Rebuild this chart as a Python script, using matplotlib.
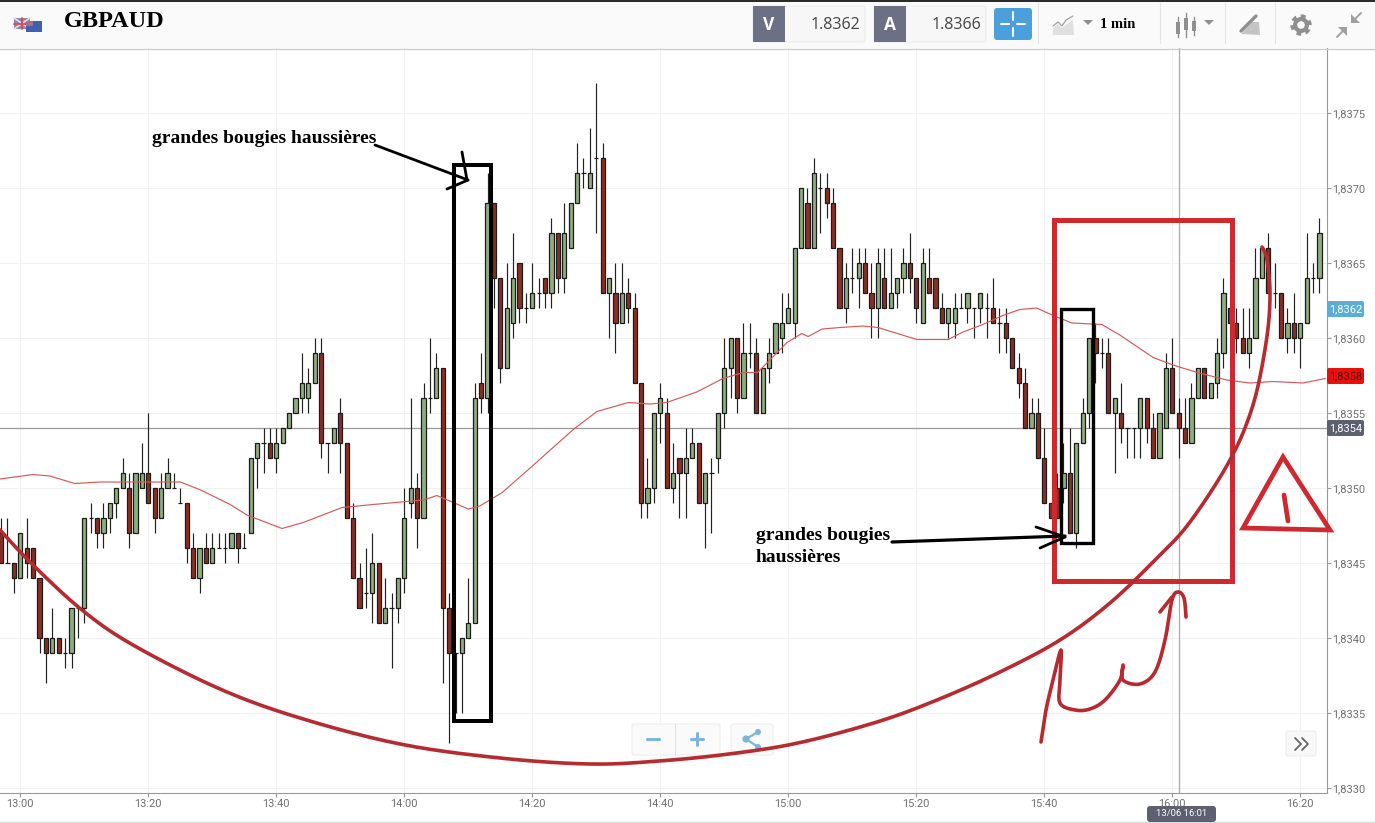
#!/usr/bin/env python3
"""
GBPAUD 1 min candlestick screenshot with hand drawn annotations.
"""

import matplotlib
matplotlib.use('Agg')
import matplotlib.pyplot as plt
from matplotlib.patches import Rectangle, FancyBboxPatch, Polygon, Circle
import numpy as np

# Candles, one per minute, first one at 12:57. Values in pips above 1.8330
first_minute = -3
opens = [17, 15, 15, 14, 16, 16, 14, 10, 9, 10,
         9, 9, 12, 12, 18, 18, 17, 18, 19, 20,
         20, 17, 20, 21, 20, 18, 20, 20, 19, 19,
         16, 14, 16, 15, 16, 16, 16, 17, 16, 17,
         22, 23, 23, 22, 23, 24, 25, 26, 26, 27,
         29, 23, 23, 25, 23, 18, 14, 13, 13, 15,
         11, 12, 12, 14, 19, 20, 18, 26, 26, 28,
         12, 9, 9, 10, 11, 27, 26, 39, 34, 28,
         31, 35, 32, 32, 33, 34, 33, 37, 34, 36,
         39, 41, 40, 42, 42, 33, 33, 31, 33, 32,
         27, 19, 20, 25, 25, 20, 22, 21, 22, 23,
         19, 21, 22, 25, 28, 30, 26, 29, 29, 25,
         28, 29, 30, 31, 31, 36, 39, 36, 40, 40,
         39, 36, 32, 34, 34, 35, 33, 32, 34, 32,
         33, 34, 35, 34, 31, 34, 34, 32, 31, 31,
         32, 32, 32, 32, 32, 32, 31, 31, 30, 28,
         27, 24, 25, 22, 19, 20, 20, 21, 17, 23,
         25, 30, 29, 29, 25, 25, 24, 24, 24, 26,
         24, 22, 24, 28, 25, 24, 23, 26, 28, 26,
         27, 29, 32, 31, 30, 29, 30, 34, 36, 33,
         33, 30, 31, 30, 31, 34, 34]
closes = [15, 15, 14, 17, 15, 14, 10, 9, 10, 9,
          9, 12, 12, 18, 18, 17, 18, 19, 20, 21,
          17, 21, 21, 19, 18, 20, 21, 20, 19, 16,
          14, 16, 15, 16, 16, 16, 17, 16, 16, 22,
          23, 23, 22, 23, 24, 25, 26, 27, 27, 29,
          23, 23, 24, 23, 18, 14, 12, 13, 15, 11,
          12, 12, 14, 18, 20, 18, 26, 26, 28, 12,
          9, 9, 10, 11, 26, 26, 39, 34, 28, 32,
          34, 32, 32, 33, 33, 33, 37, 34, 37, 39,
          41, 41, 41, 42, 33, 34, 31, 33, 32, 27,
          19, 20, 25, 26, 20, 21, 21, 22, 23, 19,
          21, 21, 25, 28, 30, 26, 29, 29, 25, 28,
          29, 31, 31, 32, 36, 40, 36, 41, 40, 39,
          36, 32, 34, 34, 35, 33, 32, 35, 32, 33,
          34, 35, 34, 32, 35, 33, 32, 31, 32, 32,
          32, 33, 32, 33, 32, 31, 31, 30, 28, 27,
          24, 25, 22, 19, 18, 18, 21, 17, 23, 25,
          30, 29, 29, 25, 26, 24, 24, 24, 26, 24,
          22, 25, 28, 25, 24, 23, 26, 28, 26, 27,
          29, 33, 31, 30, 29, 30, 34, 36, 33, 33,
          30, 31, 30, 31, 34, 34, 37]
highs = [18, 18, 15, 17, 18, 16, 14, 10, 12, 10,
         10, 12, 12, 18, 19, 18, 19, 19, 20, 22,
         21, 21, 23, 25, 20, 21, 22, 21, 20, 19,
         17, 16, 17, 17, 17, 17, 17, 17, 17, 22,
         23, 24, 24, 24, 24, 25, 26, 29, 28, 30,
         30, 23, 24, 26, 23, 19, 15, 16, 17, 15,
         14, 13, 14, 20, 26, 21, 27, 30, 29, 28,
         13, 9, 10, 14, 27, 29, 41, 39, 34, 35,
         37, 35, 33, 35, 34, 34, 38, 37, 39, 39,
         43, 42, 44, 47, 43, 34, 35, 35, 34, 33,
         27, 22, 25, 27, 26, 23, 22, 24, 24, 23,
         21, 22, 25, 30, 30, 30, 31, 31, 30, 28,
         30, 31, 33, 33, 36, 40, 40, 42, 41, 41,
         40, 36, 35, 36, 36, 36, 35, 36, 36, 36,
         34, 36, 37, 34, 36, 36, 34, 33, 32, 33,
         33, 33, 32, 33, 33, 34, 32, 32, 30, 29,
         28, 26, 26, 24, 19, 21, 23, 24, 23, 26,
         30, 31, 30, 30, 26, 27, 24, 24, 26, 26,
         25, 25, 29, 30, 26, 26, 27, 28, 28, 27,
         30, 34, 32, 32, 32, 32, 36, 36, 37, 35,
         33, 32, 33, 31, 37, 35, 38]
lows = [15, 15, 13, 14, 14, 14, 9, 7, 9, 9,
        8, 8, 10, 11, 17, 16, 16, 17, 18, 20,
        16, 17, 20, 19, 17, 18, 20, 20, 19, 15,
        14, 13, 15, 15, 16, 15, 16, 15, 16, 17,
        20, 21, 22, 21, 23, 24, 25, 25, 25, 27,
        22, 21, 23, 21, 18, 14, 12, 12, 11, 11,
        11, 8, 11, 13, 18, 16, 18, 25, 26, 7,
        3, 5, 5, 10, 11, 25, 25, 32, 27, 28,
        30, 31, 31, 32, 32, 32, 32, 33, 33, 36,
        39, 40, 40, 37, 33, 30, 29, 31, 31, 27,
        18, 18, 19, 23, 20, 19, 18, 18, 22, 19,
        16, 17, 21, 24, 26, 25, 26, 28, 25, 25,
        27, 29, 29, 31, 30, 36, 36, 36, 37, 38,
        36, 32, 31, 33, 32, 33, 30, 30, 32, 32,
        32, 33, 33, 31, 31, 33, 32, 31, 30, 30,
        32, 31, 30, 31, 30, 31, 29, 29, 28, 26,
        24, 24, 22, 19, 18, 18, 19, 17, 16, 23,
        24, 27, 28, 25, 21, 23, 22, 22, 22, 23,
        22, 22, 24, 25, 22, 23, 23, 26, 26, 26,
        26, 28, 31, 29, 29, 28, 30, 34, 33, 32,
        30, 29, 29, 28, 31, 33, 33]

# Moving average
ma_minutes = [-3.2, 2, 4.6, 8.5, 12.5, 18.7, 25, 28, 32.8, 35.4, 40.9, 44.2, 50.3,
              55.1, 60.4, 63, 65.1, 70, 71.8, 75.3, 80.1, 86.4, 90.1, 95, 98.4, 101,
              105.7, 109.8, 113, 115.2, 117.5, 119.8, 122.1, 123.1, 125.3, 128.1,
              131.7, 134, 140.1, 145, 147.3, 150.4, 153.5, 156.2, 158.8, 161.4, 164.3,
              169, 171.8, 177, 180.1, 183.9, 188.5, 192.1, 195.7, 200.4, 203.9]
ma_pips = [20.6, 20.9, 20.8, 20.3, 20.4, 20.4, 20.4, 19.9, 18.9, 18.2, 17.3, 17.7, 18.7,
           18.9, 19.1, 19.2, 19.5, 18.6, 18.8, 19.7, 21.5, 23.9, 25.1, 25.7, 25.6, 25.7,
           26.4, 27.3, 27.7, 27.7, 28.7, 29.7, 30.3, 30.1, 30.6, 30.7,
           30.8, 30.7, 29.9, 29.9, 30.4, 30.9, 31.5, 31.9, 32, 31.5, 31,
           30.9, 30.2, 28.7, 28.2, 27.7, 27.2, 27, 27.1, 27, 27.3]

base_price = 1.8330
pip = 0.0001
price_ticks = [1.8330, 1.8335, 1.8340, 1.8345, 1.8350, 1.8355, 1.8360, 1.8365, 1.8370, 1.8375]
time_ticks = [0, 20, 40, 60, 80, 100, 120, 140, 160, 180, 200]
time_labels = ['13:00', '13:20', '13:40', '14:00', '14:20', '14:40', '15:00', '15:20',
               '15:40', '16:00', '16:20']
crosshair_price = 1.8354
crosshair_minute = 181

# Hand drawn marks, in screen pixels
bowl_curve = [(0, 530), (33, 565), (82, 610), (133, 645), (220, 689), (300, 718), (400, 744),
              (500, 758), (590, 764), (659, 761), (729, 754), (798, 743), (877, 722), (937, 700),
              (1000, 672), (1060, 640), (1110, 603), (1157, 558), (1190, 522), (1230, 460),
              (1253, 405), (1266, 343), (1270, 297), (1267, 260), (1262, 247)]
squiggle = [(1041, 742), (1046, 710), (1053, 680), (1061, 650), (1060, 680), (1060, 703),
            (1075, 710), (1090, 709), (1105, 700), (1120, 680), (1123, 665), (1123, 680),
            (1140, 684), (1155, 672), (1165, 640), (1172, 600), (1178, 592), (1184, 598),
            (1186, 617)]
squiggle_tip = [(1160, 612), (1172, 597)]
warning_triangle = [(1283, 457), (1243, 528), (1330, 530)]
warning_bar = [(1284, 495), (1288, 521)]

DARK = '#6b7085'
GREY = '#8f8f8f'
BLUE_ICON = '#7db6d8'
RED = '#d0282f'
CURVE_RED = '#b52b30'
W, H = 1375, 823
SERIF = 'Liberation Serif'

plt.rcParams['font.family'] = ['Roboto', 'DejaVu Sans']
fig = plt.figure(figsize=(W / 100, H / 100), dpi=100, facecolor='white')

# Chart area goes from x=0 to 1327 and y=48 to 793
ax = fig.add_axes([0, (H - 793) / H, 1327 / W, 745 / H])
ax.set_xlim(-20.3 / 6.4, (1327 - 20.3) / 6.4)
ax.set_ylim(base_price - 5 / 15 * pip, base_price + 740 / 15 * pip)

minutes = first_minute + np.arange(len(opens))
o = base_price + np.array(opens) * pip
c = base_price + np.array(closes) * pip
hi = base_price + np.array(highs) * pip
lo = base_price + np.array(lows) * pip

ax.vlines(minutes, lo, hi, color='#222222', linewidth=0.85, zorder=3)
colors = ['#8fae7f' if close >= op else '#8a2f22' for op, close in zip(opens, closes)]
ax.bar(minutes, np.abs(c - o), bottom=np.minimum(o, c), width=0.64, color=colors,
       edgecolor='#1c1c1c', linewidth=0.9, zorder=4)

ax.plot(ma_minutes, base_price + np.array(ma_pips) * pip, color='#d65a5a', linewidth=0.85, zorder=5)

ax.axhline(crosshair_price, color='#999999', linewidth=0.9, zorder=2)
ax.axvline(crosshair_minute, color='#aaaaaa', linewidth=0.9, zorder=2)

ax.set_xticks(time_ticks)
ax.set_xticklabels(time_labels)
ax.set_yticks(price_ticks)
ax.set_yticklabels([f'{p:.4f}'.replace('.', ',') for p in price_ticks])
ax.yaxis.tick_right()
ax.tick_params(axis='both', length=3, width=0.8, color='#999999', labelcolor='#6f6f6f', labelsize=7.9)
ax.tick_params(axis='y', pad=1)
ax.tick_params(axis='x', pad=1)
ax.grid(True, color='#f1f1f1', linewidth=0.8)
ax.set_axisbelow(True)
ax.spines['left'].set_visible(False)
ax.spines['top'].set_visible(False)
ax.spines['right'].set_color('#999999')
ax.spines['bottom'].set_color('#999999')

# Overlay in screen pixels for the toolbar, buttons and drawings
ov = fig.add_axes([0, 0, 1, 1], zorder=10)
ov.set_xlim(0, W)
ov.set_ylim(H, 0)
ov.axis('off')
ov.patch.set_alpha(0)


def box(x0, y0, x1, y1, color, edge='none', lw=0, z=2, fill=True):
    ov.add_patch(Rectangle((x0, y0), x1 - x0, y1 - y0, facecolor=color if fill else 'none',
                           edgecolor=edge, linewidth=lw, zorder=z))


def rounded(x0, y0, x1, y1, color, edge='none', lw=0, z=2, r=2):
    ov.add_patch(FancyBboxPatch((x0 + r, y0 + r), x1 - x0 - 2 * r, y1 - y0 - 2 * r,
                                boxstyle=f'round,pad={r},rounding_size={r}',
                                facecolor=color, edgecolor=edge, linewidth=lw, zorder=z))


def smooth(points, n=14):
    # Catmull-Rom through the points so the pen strokes do not look angular
    p = np.array(points, dtype=float)
    p = np.vstack([p[0], p, p[-1]])
    out = []
    for i in range(1, len(p) - 2):
        t = np.linspace(0, 1, n)[:, None]
        out.append(0.5 * (2 * p[i] + (p[i + 1] - p[i - 1]) * t
                          + (2 * p[i - 1] - 5 * p[i] + 4 * p[i + 1] - p[i + 2]) * t ** 2
                          + (3 * p[i] - p[i - 1] - 3 * p[i + 1] + p[i + 2]) * t ** 3))
    return np.vstack(out)


def stroke(points, color, lw, z=8):
    pts = np.array(points, dtype=float)
    ov.plot(pts[:, 0], pts[:, 1], color=color, linewidth=lw, solid_capstyle='round',
            solid_joinstyle='round', zorder=z)


# Toolbar
box(0, 0, W, 48, '#fafafa')
box(0, 0, W, 1.5, '#2a2a2a', z=3)
ov.plot([0, W], [48.5, 48.5], color='#cccccc', linewidth=1, zorder=3)
# flags
box(14, 18, 30, 29, '#8a86b8', z=3)
stroke([(14, 18), (30, 29)], '#e8dce0', 1.2, z=3)
stroke([(14, 29), (30, 18)], '#e8dce0', 1.2, z=3)
stroke([(14, 23.5), (30, 23.5)], '#d84a5a', 1.3, z=3)
stroke([(22, 18), (22, 29)], '#d84a5a', 1.3, z=3)
box(26, 21, 42, 32, '#3f5fb0', z=4)
box(26, 21, 33, 26, '#b06a8a', z=4)
ov.text(64, 21, 'GBPAUD', family=SERIF, fontweight='bold', fontsize=17.5, va='center', ha='left',
        color='black', zorder=5)

for x0, x1, x2, letter, value in [(753, 785, 865, 'V', '1.8362'), (874, 906, 986, 'A', '1.8366')]:
    rounded(x0, 6, x2, 42, '#f7f7f7', edge='#ececec', lw=0.8, z=3)
    box(x0, 6, x1, 42, DARK, z=4)
    ov.text((x0 + x1) / 2, 25, letter, color='white', fontsize=12.5, fontweight='bold',
            ha='center', va='center', family='Open Sans', zorder=5)
    ov.text(x2 - 5, 25, value, color='#444444', fontsize=11.5, ha='right', va='center',
            family='Open Sans', zorder=5)

rounded(994, 8, 1032, 40, '#4a9fdc', z=3, r=3)
for seg in [[(1001, 24), (1009, 24)], [(1017, 24), (1025, 24)], [(1013, 12), (1013, 20)], [(1013, 28), (1013, 36)]]:
    stroke(seg, 'white', 1.5, z=4)

ov.add_patch(Polygon([(1053, 35), (1053, 28), (1058, 24), (1062, 28), (1073, 20), (1074, 35)],
                     facecolor='#e0e0e0', edgecolor='none', zorder=3))
stroke([(1053, 26), (1058, 22), (1062, 26), (1066, 20), (1073, 16)], '#a0a0a0', 0.9, z=4)
for x in [1088, 1209]:
    ov.add_patch(Polygon([(x - 5, 20), (x + 5, 20), (x, 25)], facecolor=GREY, zorder=3))
ov.text(1100, 24, '1 min', family=SERIF, fontweight='bold', fontsize=10.5, va='center', color='black', zorder=5)
for x, y0, y1, b0, b1 in [(1178, 17, 37, 22, 34), (1186, 13, 37, 18, 30), (1194, 17, 35, 21, 31)]:
    ov.plot([x, x], [y0, y1], color=GREY, linewidth=1, zorder=3)
    box(x - 2, b0, x + 2, b1, GREY, z=4)
for x in [1038, 1160, 1225, 1275]:
    ov.plot([x, x], [2, 43], color='#e6e6e6', linewidth=0.8, zorder=3)
ov.add_patch(Polygon([(1241, 34), (1252, 22), (1259, 22), (1260, 35)], facecolor='#c4c4c4', zorder=3))
stroke([(1241, 31), (1256, 16)], '#8f8f8f', 2.4, z=4)
# gear
ov.add_patch(Circle((1301, 25), 8.6, facecolor='none', edgecolor=GREY, linewidth=3,
                    linestyle=(0, (1.1, 1.05)), zorder=3))
ov.add_patch(Circle((1301, 25), 8, facecolor=GREY, zorder=3))
ov.add_patch(Circle((1301, 25), 3.8, facecolor='#fafafa', zorder=4))
# compress arrows
ov.add_patch(Polygon([(1351, 23), (1351, 14), (1360, 23)], facecolor='#a0a0a0', zorder=3))
stroke([(1353, 21), (1361, 13)], '#a0a0a0', 1.4, z=3)
ov.add_patch(Polygon([(1347, 27), (1347, 36), (1338, 27)], facecolor='#a0a0a0', zorder=3))
stroke([(1345, 29), (1337, 37)], '#a0a0a0', 1.4, z=3)

# Price and time tags
for y0, color, text, tcolor in [(301, '#5aaed6', '1,8362', 'white'), (368, '#e80f0f', '1,8358', '#5a1010'),
                                (420, '#5c6070', '1,8354', 'white')]:
    rounded(1327, y0, 1364, y0 + 16, color, z=4)
    ov.text(1345.5, y0 + 8, text, color=tcolor, fontsize=7.9, ha='center', va='center', zorder=5)
rounded(1147, 806, 1216, 822, '#5c6070', z=4, r=3)
ov.text(1181.5, 814, '13/06 16:01', color='white', fontsize=6.8, ha='center', va='center', zorder=5)
ov.plot([0, W], [822, 822], color='#dddddd', linewidth=1, zorder=1)

# Zoom and share buttons
rounded(632, 724, 720, 755, '#fafafa', edge='#eeeeee', lw=0.8, z=3)
rounded(731, 724, 773, 755, '#fafafa', edge='#eeeeee', lw=0.8, z=3)
ov.plot([675, 675], [724, 755], color='#e4e4e4', linewidth=0.8, zorder=4)
stroke([(647, 739), (659, 739)], BLUE_ICON, 2.2, z=5)
stroke([(691, 739), (703, 739)], BLUE_ICON, 2.2, z=5)
stroke([(697, 733), (697, 745)], BLUE_ICON, 2.2, z=5)
stroke([(758, 732), (746, 739), (758, 747)], BLUE_ICON, 1.6, z=5)
for center, r in [((758, 732), 3), ((746, 739), 3.6), ((758, 747), 3)]:
    ov.add_patch(Circle(center, r, facecolor=BLUE_ICON, zorder=5))
rounded(1286, 731, 1316, 756, '#f8f8f8', edge='#eeeeee', lw=0.8, z=3)
stroke([(1295, 738), (1301, 744), (1295, 750)], '#666666', 1.3, z=5)
stroke([(1302, 738), (1308, 744), (1302, 750)], '#666666', 1.3, z=5)

# Hand drawn rectangles and arrows
box(454, 165, 491, 721, 'none', edge='black', lw=2.9, z=7, fill=False)
box(1061, 309, 1093, 543, 'none', edge='black', lw=2.4, z=7, fill=False)
box(1054, 220, 1232, 581, 'none', edge=RED, lw=3.6, z=6, fill=False)

stroke([(375, 145), (468, 180)], 'black', 2)
stroke([(462, 152), (467, 180)], 'black', 2)
stroke([(447, 189), (468, 180)], 'black', 2)
stroke([(892, 542), (1065, 536)], 'black', 2.3)
stroke([(1036, 527), (1065, 537)], 'black', 2)
stroke([(1040, 548), (1065, 537)], 'black', 2)
ov.text(152, 138, 'grandes bougies haussières', family=SERIF, fontweight='bold', fontsize=14,
        va='center', color='black', zorder=9)
ov.text(756, 536, 'grandes bougies', family=SERIF, fontweight='bold', fontsize=14,
        va='center', color='black', zorder=9)
ov.text(756, 558, 'haussières', family=SERIF, fontweight='bold', fontsize=14,
        va='center', color='black', zorder=9)

stroke(smooth(bowl_curve), CURVE_RED, 2.6)
stroke(smooth(squiggle), CURVE_RED, 2.6)
stroke(squiggle_tip, CURVE_RED, 2.6)
ov.add_patch(Polygon(warning_triangle, closed=True, facecolor='none', edgecolor=RED, linewidth=3.4,
                     joinstyle='miter', zorder=8))
stroke(warning_bar, RED, 3.4)

fig.savefig('out.png', dpi=100, facecolor='white')
plt.close()
